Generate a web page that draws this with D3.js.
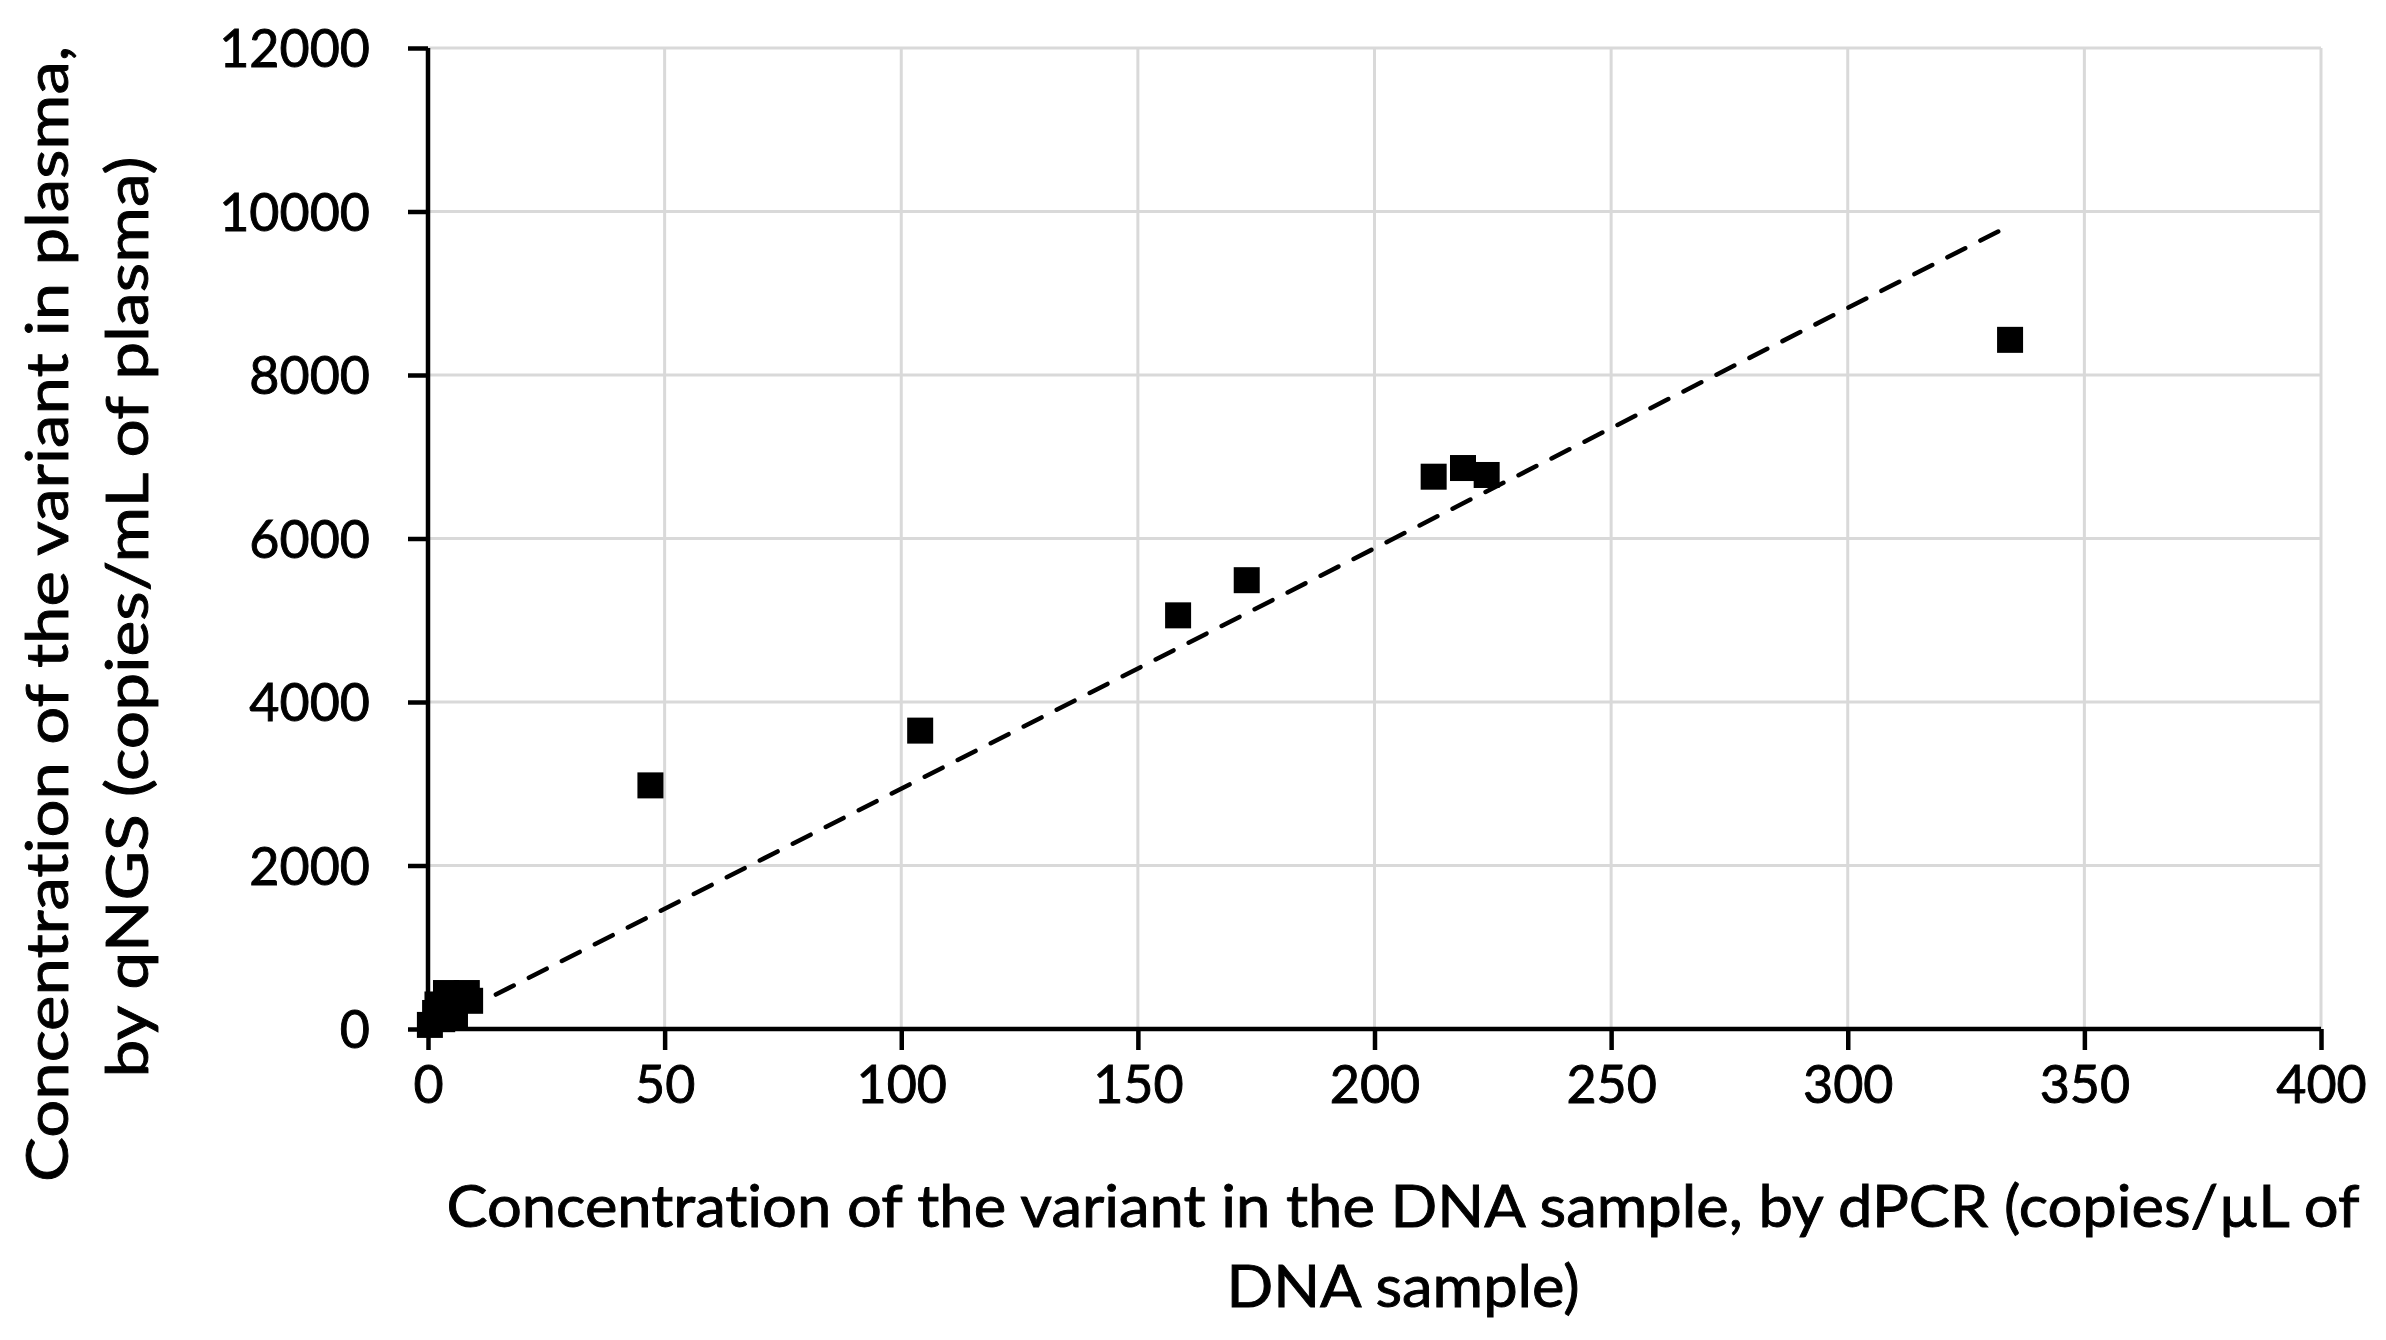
<!DOCTYPE html>
<html>
<head>
<meta charset="utf-8">
<script src="https://cdn.jsdelivr.net/npm/d3@7"></script>
<style>
  html, body { margin: 0; padding: 0; background: #ffffff; }
  svg { display: block; }
  text { font-family: Lato, "Open Sans", sans-serif; fill: #000; font-variant-ligatures: none; font-feature-settings: "liga" 0; stroke: #000; stroke-width: 0.9px; }
</style>
</head>
<body>
<svg id="chart" width="2386" height="1340"></svg>
<script>
// ---- data ----
const dpcr = [0.4, 1.5, 3.0, 2.0, 3.8, 5.7, 8.2, 8.9, 47, 104, 158.5, 173, 212.5, 218.7, 223.7, 334.3];
const qngs = [50, 196, 120, 300, 440, 147, 440, 345, 2980, 3650, 5060, 5490, 6756, 6862, 6777, 8430];
const xTicks = [0, 50, 100, 150, 200, 250, 300, 350, 400];
const yTicks = [0, 2000, 4000, 6000, 8000, 10000, 12000];
const trendSlope = 29.4;
const trendIntercept = 0;
const xTitle = ["Concentration of the variant in the DNA sample, by dPCR (copies/\u00B5L of", "DNA sample)"];
const yTitle = ["Concentration of the variant in plasma,", "by qNGS (copies/mL of plasma)"];

// ---- layout ----
const W = 2386, H = 1340;
const plot = { left: 428, right: 2321, top: 48, bottom: 1029 };

const svg = d3.select("#chart");
svg.append("rect").attr("width", W).attr("height", H).attr("fill", "#fff");

const x = d3.scaleLinear().domain([0, 400]).range([plot.left, plot.right]);
const y = d3.scaleLinear().domain([0, 12000]).range([plot.bottom, plot.top]);

// gridlines
const grid = svg.append("g");
grid.selectAll("line.v").data(xTicks.filter(d => d > 0)).join("line")
  .attr("x1", d => x(d)).attr("x2", d => x(d))
  .attr("y1", y(0)).attr("y2", y(12000))
  .attr("stroke", "#d9d9d9").attr("stroke-width", 3);
grid.selectAll("line.h").data(yTicks.filter(d => d > 0)).join("line")
  .attr("x1", x(0)).attr("x2", x(400))
  .attr("y1", d => y(d)).attr("y2", d => y(d))
  .attr("stroke", "#d9d9d9").attr("stroke-width", 3);

// axes
const xAxis = svg.append("g").attr("transform", `translate(0,${plot.bottom})`)
  .call(d3.axisBottom(x).tickValues(xTicks).tickSize(21).tickPadding(16).tickFormat(d3.format("d")));
const yAxis = svg.append("g").attr("transform", `translate(${plot.left},0)`)
  .call(d3.axisLeft(y).tickValues(yTicks).tickSize(20).tickPadding(38).tickFormat(d3.format("d")));
[xAxis, yAxis].forEach(a => {
  a.select(".domain").attr("stroke", "#000").attr("stroke-width", 4.5);
  a.selectAll(".tick line").attr("stroke", "#000").attr("stroke-width", 4.5);
  a.selectAll(".tick text").style("font-family", "Lato, sans-serif").style("font-size", "52px").attr("fill", "#000");
});
xAxis.select(".domain").attr("d", `M${plot.left},0H${plot.right}`);
yAxis.select(".domain").attr("d", `M0,${plot.bottom}V${plot.top}`);
yAxis.selectAll(".tick text").attr("dy", "0.36em");
xAxis.selectAll(".tick text").attr("dy", "0.72em");

// trendline (linear fit)
const xMin = d3.min(dpcr), xMax = d3.max(dpcr);
svg.append("line")
  .attr("x1", x(xMin)).attr("y1", y(trendIntercept + trendSlope * xMin))
  .attr("x2", x(xMax)).attr("y2", y(trendIntercept + trendSlope * xMax))
  .attr("stroke", "#000").attr("stroke-width", 4.5)
  .attr("stroke-dasharray", "20 17").attr("stroke-linecap", "round");

// markers
const S = 26;
svg.append("g").selectAll("rect").data(dpcr.map((d, i) => [d, qngs[i]])).join("rect")
  .attr("x", d => x(d[0]) - S / 2).attr("y", d => y(d[1]) - S / 2)
  .attr("width", S).attr("height", S).attr("fill", "#000");

// axis titles
const tfs = 59;
const xt1 = svg.append("text").attr("x", 1403).attr("y", 1227).attr("text-anchor", "middle")
  .style("font-size", tfs + "px").text(xTitle[0]);
const nat1 = xt1.node().getComputedTextLength();
const fac = 1913 / nat1;
xt1.attr("textLength", 1913).attr("lengthAdjust", "spacingAndGlyphs");
const xt2 = svg.append("text").attr("x", 1403).attr("y", 1307).attr("text-anchor", "middle")
  .style("font-size", tfs + "px").text(xTitle[1]);
xt2.attr("textLength", xt2.node().getComputedTextLength() * fac).attr("lengthAdjust", "spacingAndGlyphs");

const yt1 = svg.append("text").attr("transform", "translate(68,614) rotate(-90)").attr("text-anchor", "middle")
  .style("font-size", tfs + "px").text(yTitle[0]);
yt1.attr("textLength", 1136).attr("lengthAdjust", "spacingAndGlyphs");
const yt2 = svg.append("text").attr("transform", "translate(148,617) rotate(-90)").attr("text-anchor", "middle")
  .style("font-size", tfs + "px").text(yTitle[1]);
yt2.attr("textLength", 921).attr("lengthAdjust", "spacingAndGlyphs");
</script>
</body>
</html>
